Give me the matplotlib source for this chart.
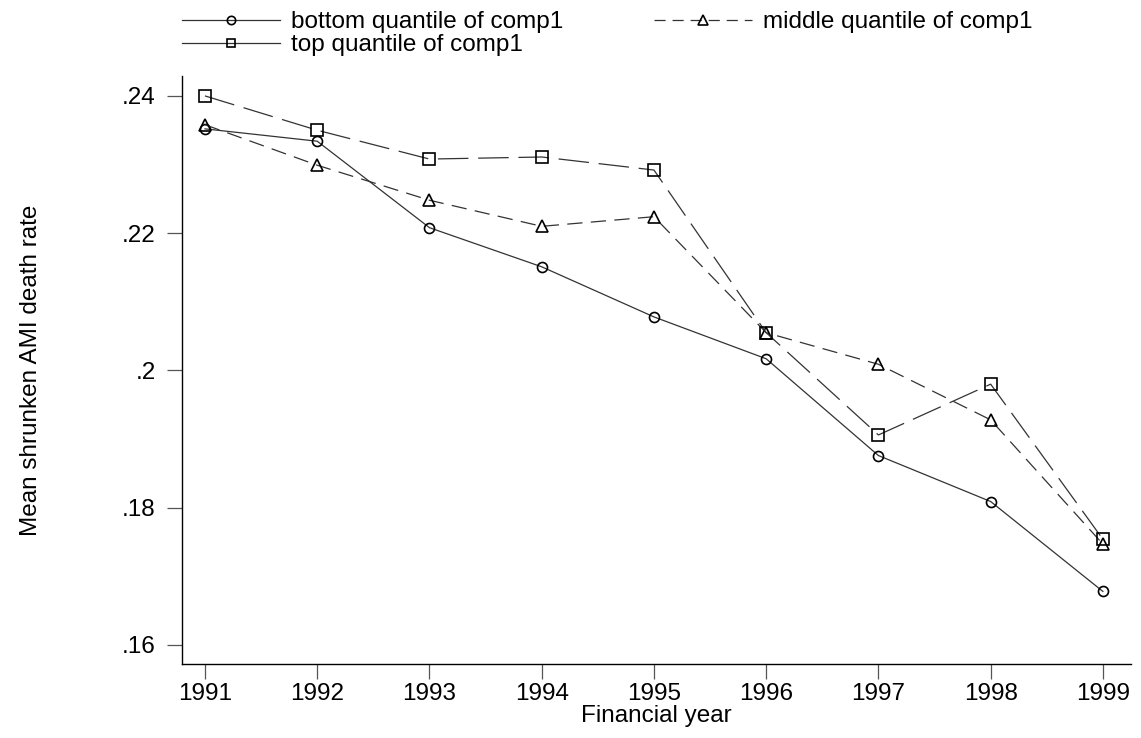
import matplotlib.pyplot as plt
from matplotlib.lines import Line2D

plt.rcParams['font.family'] = ['Liberation Sans', 'DejaVu Sans']
plt.rcParams['lines.scale_dashes'] = False

years = [1991, 1992, 1993, 1994, 1995, 1996, 1997, 1998, 1999]
bottom_q = [0.2352, 0.2334, 0.2208, 0.2151, 0.2078, 0.2017, 0.1876, 0.1809, 0.1678]
middle_q = [0.2358, 0.2299, 0.2248, 0.2210, 0.2224, 0.2055, 0.2009, 0.1928, 0.1747]
top_q = [0.2400, 0.2350, 0.2308, 0.2311, 0.2292, 0.2055, 0.1906, 0.1980, 0.1754]

ytick_vals = [0.16, 0.18, 0.20, 0.22, 0.24]
ytick_labels = ['.16', '.18', '.2', '.22', '.24']

fs = 17.5
fig = plt.figure(figsize=(11.41, 7.38), dpi=100)
ax = fig.add_axes([0.1595, 0.1003, 0.8317, 0.7967])

line_col = '#333333'
mk = dict(markerfacecolor='none', markeredgecolor='black', markeredgewidth=1.2)

ax.plot(years, bottom_q, color=line_col, lw=0.9, marker='o', markersize=7.2, **mk)
ax.plot(years, middle_q, color=line_col, lw=0.9, linestyle=(0, (11, 6)),
        marker='^', markersize=8.5, **mk)
ax.plot(years, top_q, color=line_col, lw=0.9, linestyle=(0, (22, 7)),
        marker='s', markersize=8.5, **mk)

ax.set_xlim(1990.795, 1999.25)
ax.set_ylim(0.15723, 0.2429)
ax.set_xticks(years)
ax.set_xticklabels([str(y) for y in years], fontsize=fs)
ax.set_yticks(ytick_vals)
ax.set_yticklabels(ytick_labels, fontsize=fs)
ax.tick_params(direction='out', length=10.5, width=0.9, color='#555555')
ax.tick_params(axis='x', pad=3)
ax.tick_params(axis='y', pad=8.5)

for side in ['top', 'right']:
    ax.spines[side].set_visible(False)
for side in ['left', 'bottom']:
    ax.spines[side].set_linewidth(1.0)

ax.set_xlabel('Financial year', fontsize=fs, labelpad=0)
ax.set_ylabel('Mean shrunken AMI death rate', fontsize=fs)
ax.yaxis.set_label_coords(-0.1475, 0.5)

# legend handles drawn as in the reference (top entry shown solid)
handles = [
    Line2D([], [], color=line_col, lw=0.9, marker='o', markersize=6, **mk),
    Line2D([], [], color=line_col, lw=0.9, marker='s', markersize=6, **mk),
    Line2D([], [], color=line_col, lw=0.9, linestyle=(0, (8, 5)),
           marker='^', markersize=6.5, **mk),
]
labels = ['bottom quantile of comp1', 'top quantile of comp1', 'middle quantile of comp1']
fig.legend(handles, labels, loc='upper left', bbox_to_anchor=(182 / 1141, 0.985),
           ncol=2, frameon=False, fontsize=fs, handlelength=4.03,
           handletextpad=0.45, labelspacing=0.05, columnspacing=3.75,
           borderpad=0, borderaxespad=0)

fig.savefig('out.png', dpi=100)
